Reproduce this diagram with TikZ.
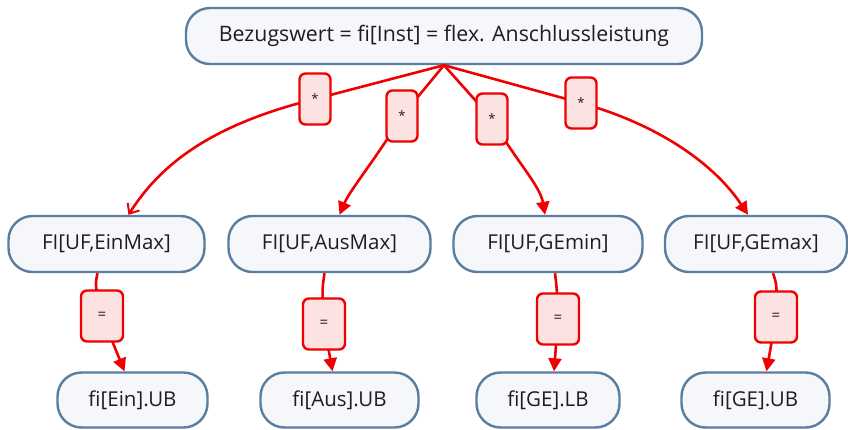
\documentclass[tikz,border=0pt]{standalone}
\usepackage{fontspec}
\setmainfont{Open Sans}
\usetikzlibrary{arrows.meta}
\definecolor{nodeborder}{RGB}{90,125,160}
\definecolor{nodefill}{RGB}{245,247,250}
\definecolor{labfill}{RGB}{253,226,226}
\definecolor{edgered}{RGB}{240,0,0}
\definecolor{txt}{RGB}{30,30,30}
\tikzset{
  box/.style={draw=nodeborder, fill=nodefill, line width=2.4pt, rounded corners=24pt,
    minimum height=56pt, inner sep=0pt, text=txt, font=\fontsize{20.5}{24}\selectfont},
  lab/.style={draw=edgered, fill=labfill, line width=2.4pt, rounded corners=6pt,
    minimum width=31pt, minimum height=51pt, inner sep=0pt, text=txt, font=\fontsize{13}{15}\selectfont},
  eqlab/.style={lab, minimum width=42pt, font=\fontsize{15}{17}\selectfont},
  edge/.style={draw=edgered, line width=2.6pt},
  tri/.style={edge, -{Triangle[length=13pt,width=13pt]}},
  barb/.style={edge, -{Straight Barb[length=8pt,width=14pt,line width=2pt]}},
}
\begin{document}
\begin{tikzpicture}[x=1pt,y=-1pt]
\useasboundingbox (0,0) rectangle (848,429);
% nodes
\node[box, minimum width=516pt, font=\fontsize{21.3}{25}\selectfont] (T) at (444,36) {Bezugswert = fi[Inst] = flex. Anschlussleistung};
\node[box, minimum width=196pt] (N1) at (106.5,244) {FI[UF,EinMax]};
\node[box, minimum width=202pt] (N2) at (329.5,244) {FI[UF,AusMax]};
\node[box, minimum width=189pt] (N3) at (548,244) {FI[UF,GEmin]};
\node[box, minimum width=182pt] (N4) at (756,244) {FI[UF,GEmax]};
\node[box, minimum width=150pt, minimum height=55pt] (B1) at (132.5,400) {fi[Ein].UB};
\node[box, minimum width=158pt, minimum height=55pt] (B2) at (339.5,400) {fi[Aus].UB};
\node[box, minimum width=143pt, minimum height=55pt] (B3) at (548,400) {fi[GE].LB};
\node[box, minimum width=148pt, minimum height=55pt] (B4) at (755.5,400) {fi[GE].UB};
% top edges
\coordinate (L1) at (315,99);
\coordinate (L2) at (402,116);
\coordinate (L3) at (492,119);
\coordinate (L4) at (581,103);
\draw[edge] (T.south) -- (L1);
\draw[barb] (L1) .. controls (210,125) and (160,165) .. ([xshift=22pt]N1.north);
\draw[edge] (T.south) -- (L2);
\draw[tri] (L2) .. controls (375,160) and (350,190) .. ([xshift=10pt]N2.north);
\draw[edge] (T.south) -- (L3);
\draw[tri] (L3) .. controls (515,160) and (540,185) .. ([xshift=-3pt]N3.north);
\draw[edge] (T.south) -- (L4);
\draw[tri] (L4) .. controls (660,125) and (715,165) .. ([xshift=-8pt]N4.north);
\node[lab] (l1) at (L1) {*};
\node[lab] (l2) at (L2) {*};
\node[lab] (l3) at (L3) {*};
\node[lab] (l4) at (L4) {*};
% bottom edges
\coordinate (E1) at (102,316);
\coordinate (E2) at (324,324);
\coordinate (E3) at (558,319);
\coordinate (E4) at (776,317);
\draw[edge] ([xshift=-9pt]N1.south) .. controls (95,285) .. (E1);
\draw[tri] (E1) -- ([xshift=-8pt]B1.north);
\draw[edge] ([xshift=-5pt]N2.south) .. controls (322,290) .. (E2);
\draw[tri] (E2) -- ([xshift=-7pt]B2.north);
\draw[edge] ([xshift=7pt]N3.south) .. controls (557,290) .. (E3);
\draw[tri] (E3) -- ([xshift=6pt]B3.north);
\draw[edge] ([xshift=17pt]N4.south) .. controls (777,285) .. (E4);
\draw[tri] (E4) -- ([xshift=11pt]B4.north);
\node[eqlab] (e1) at (E1) {=};
\node[eqlab] (e2) at (E2) {=};
\node[eqlab] (e3) at (E3) {=};
\node[eqlab] (e4) at (E4) {=};
\end{tikzpicture}
\end{document}
